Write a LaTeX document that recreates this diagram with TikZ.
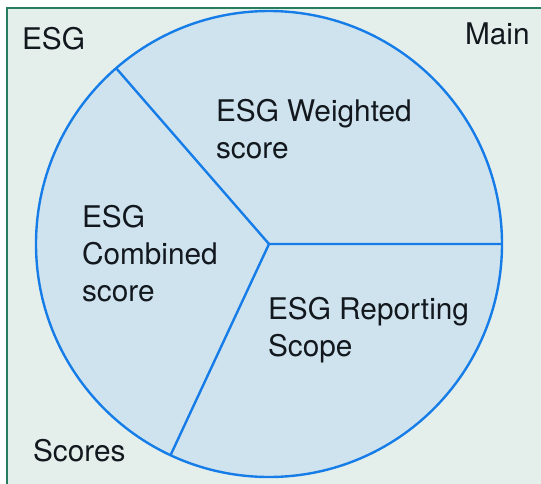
\documentclass[tikz,border=0pt]{standalone}
\usepackage{fontspec}
\setmainfont{TeX Gyre Heros}
\definecolor{panelbg}{RGB}{228,239,235}
\definecolor{panelline}{RGB}{40,125,95}
\definecolor{piefill}{RGB}{207,227,238}
\definecolor{pieline}{RGB}{22,125,232}
\definecolor{labeltext}{RGB}{18,24,30}
\begin{document}
\begin{tikzpicture}[x=1pt, y=-1pt]
      %% Styles for the panel and the pie
      \tikzset
      {
      label/.style={inner sep=0pt, outer sep=0pt, anchor=base west, align=left, text=labeltext, font=\fontsize{29.8}{36.7}\selectfont},
      pie/.style={circle, draw=pieline, line width=2.4pt, fill=piefill, inner sep=0pt, outer sep=0pt, minimum size=466pt},
      slice/.style={draw=pieline, line width=2.4pt},
      % panel/.style = {fill=panelbg}
      }
      \clip (0,0) rectangle (541,483);
      %% Panel
      \fill[panelbg] (7,8) rectangle (560,500);
      \draw[panelline, line width=2.4pt] (7,500) -- (7,8) -- (560,8);
      %% Pie
      \node[pie] (pie) at (269,244) {};
      \draw[slice] (pie.center) -- (pie.0)
      (pie.center) -- (pie.131)
      (pie.center) -- (pie.245);
      %% Panel labels
      \node[label] (esg) at (22,49) {ESG};
      \node[label] (main) at (465,44) {Main};
      \node[label] (scores) at (33,461) {Scores};
      %% Slice labels (anchored at the last line)
      \node[label] (weighted) at (216,158) {ESG Weighted\\score};
      \node[label] (combined) at (82,301) {ESG\\Combined\\score};
      \node[label] (reporting) at (268,356) {ESG Reporting\\Scope};
   \end{tikzpicture}
\end{document}
